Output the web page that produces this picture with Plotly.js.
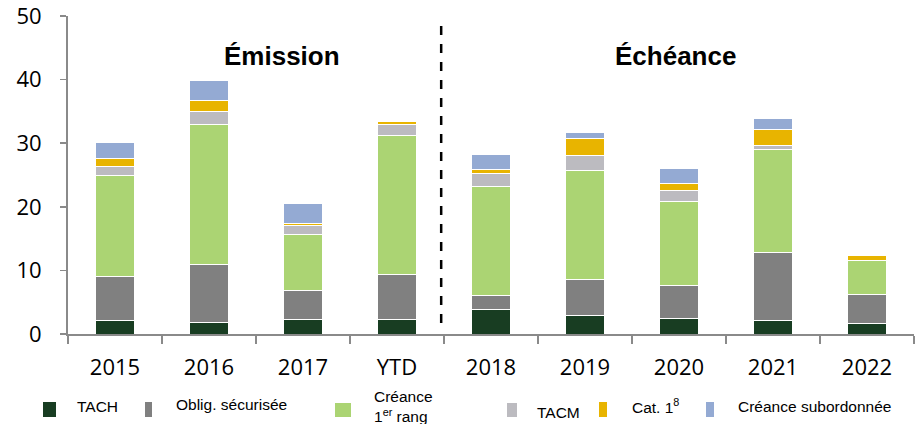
<!DOCTYPE html>
<html>
<head>
<meta charset="utf-8">
<script src="https://cdn.plot.ly/plotly-3.0.1.min.js"></script>
<style>
html,body{margin:0;padding:0;background:#fff;}
#chart{width:920px;height:424px;}
</style>
</head>
<body>
<div id="chart"></div>
<script>
// ---- data ----
const categories = ['2015', '2016', '2017', 'YTD', '2018', '2019', '2020', '2021', '2022'];
const seriesNames = ['TACH', 'Oblig. sécurisée', 'Créance<br>1<sup>er</sup> rang', 'TACM', 'Cat. 1<sup>8</sup>', 'Créance subordonnée'];
const tach       = [2.1, 1.8, 2.25, 2.25, 3.8, 2.9, 2.4, 2.1, 1.6];
const obligSec   = [6.9, 9.1, 4.65, 7.05, 2.3, 5.65, 5.2, 10.7, 4.6];
const creance1   = [15.95, 22.1, 8.8, 21.9, 17.1, 17.15, 13.2, 16.2, 5.4];
const tacm       = [1.45, 2.0, 1.4, 1.8, 2.1, 2.4, 1.8, 0.7, 0.0];
const cat1       = [1.2, 1.7, 0.35, 0.4, 0.5, 2.6, 1.0, 2.5, 0.7];
const subordonnee= [2.5, 3.2, 3.05, 0.0, 2.4, 1.0, 2.5, 1.7, 0.0];
const sectionLabels = ['Émission', 'Échéance'];
const yTickVals = [0, 10, 20, 30, 40, 50];

const seriesValues = [tach, obligSec, creance1, tacm, cat1, subordonnee];
const colors = ['#183d22', '#808080', '#abd473', '#bcbbc0', '#e8b400', '#94aad3'];

const traces = seriesValues.map((vals, i) => ({
  type: 'bar',
  x: categories,
  y: vals,
  name: seriesNames[i],
  marker: {color: colors[i], line: {color: '#ffffff', width: 1}},
  showlegend: false,
  hoverinfo: 'x+y+name'
}));

// pixel -> paper helpers
const M = {l: 68, r: 6, t: 16, b: 90};
const W = 920, H = 424;
const pw = W - M.l - M.r, ph = H - M.t - M.b;
const px = v => (v - M.l) / pw;
const py = v => (H - M.b - v) / ph;

// manual legend layout (pixel positions)
const legendBoxes = [
  {x0: 43, x1: 56, y0: 402, y1: 417, tx: 75, ty: 406},
  {x0: 145, x1: 152, y0: 402, y1: 417, tx: 174, ty: 404},
  {x0: 335, x1: 351, y0: 403, y1: 417, tx: 372, ty: 406},
  {x0: 507, x1: 517, y0: 403, y1: 417, tx: 535, ty: 412},
  {x0: 599, x1: 607, y0: 402, y1: 417, tx: 630, ty: 406},
  {x0: 706, x1: 714, y0: 402, y1: 417, tx: 736, ty: 406}
];

const shapes = legendBoxes.map((b, i) => ({
  type: 'rect', xref: 'paper', yref: 'paper',
  x0: px(b.x0), x1: px(b.x1), y0: py(b.y1), y1: py(b.y0),
  fillcolor: colors[i], line: {width: 0}
}));
// dashed separator between issuance and maturity
shapes.push({
  type: 'line', xref: 'x', yref: 'paper',
  x0: 3.47, x1: 3.47, y0: py(323), y1: py(18),
  line: {color: '#000000', width: 2.5, dash: 'dash'}
});

const annotations = legendBoxes.map((b, i) => ({
  xref: 'paper', yref: 'paper', x: px(b.tx), y: py(b.ty),
  xanchor: 'left', yanchor: 'middle', showarrow: false, align: 'left',
  text: seriesNames[i],
  font: {family: 'Liberation Sans, Arial, sans-serif', size: 15.5, color: '#000'}
}));
annotations.push({
  xref: 'paper', yref: 'paper', x: px(282), y: py(56), showarrow: false,
  xanchor: 'center', yanchor: 'middle', text: '<b>' + sectionLabels[0] + '</b>',
  font: {family: 'Liberation Sans, Arial, sans-serif', size: 26, color: '#000'}
});
annotations.push({
  xref: 'paper', yref: 'paper', x: px(675), y: py(56), showarrow: false,
  xanchor: 'center', yanchor: 'middle', text: '<b>' + sectionLabels[1] + '</b>',
  font: {family: 'Liberation Sans, Arial, sans-serif', size: 26, color: '#000'}
});

const layout = {
  width: W, height: H,
  margin: M,
  barmode: 'stack',
  bargap: 0.595,
  paper_bgcolor: '#ffffff',
  plot_bgcolor: '#ffffff',
  font: {family: 'Open Sans, sans-serif', color: '#000'},
  xaxis: {
    type: 'category',
    tickson: 'boundaries',
    ticks: 'outside', ticklen: 8, tickwidth: 1.5, tickcolor: '#8a8a8a',
    showline: true, linecolor: '#8a8a8a', linewidth: 2,
    showgrid: false, zeroline: false,
    tickfont: {family: 'Open Sans, sans-serif', size: 22, color: '#000'},
    ticklabelstandoff: 13,
    ticklabeloverflow: 'allow',
    fixedrange: true
  },
  yaxis: {
    range: [0, 50],
    tickvals: yTickVals,
    ticks: 'outside', ticklen: 6, tickwidth: 1.5, tickcolor: '#8a8a8a',
    showline: true, linecolor: '#8a8a8a', linewidth: 2,
    showgrid: false, zeroline: false,
    tickfont: {family: 'Open Sans, sans-serif', size: 22, color: '#000'},
    ticklabelstandoff: 14,
    ticklabeloverflow: 'allow',
    fixedrange: true
  },
  shapes: shapes,
  annotations: annotations
};

Plotly.newPlot('chart', traces, layout, {displayModeBar: false, staticPlot: true});
</script>
</body>
</html>
